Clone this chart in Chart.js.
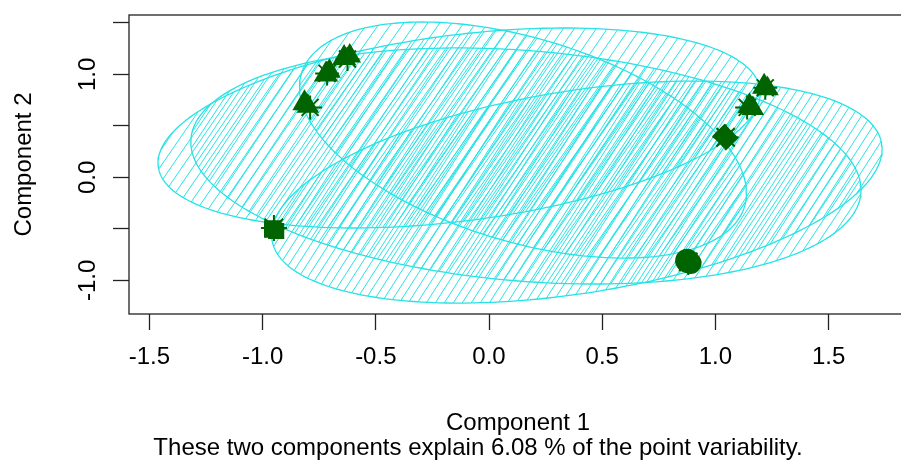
<!DOCTYPE html>
<html>
<head>
<meta charset="utf-8">
<script src="https://cdn.jsdelivr.net/npm/chart.js@4"></script>
<style>
  html, body { margin: 0; padding: 0; background: #fff; overflow: hidden; }
  canvas { display: block; }
</style>
</head>
<body>
<canvas id="c" width="922" height="468"></canvas>
<script>
// axis ticks
const xTicks = [-1.5, -1.0, -0.5, 0.0, 0.5, 1.0, 1.5];
const yTicks = [-1.0, -0.5, 0.0, 0.5, 1.0, 1.5];
const yLabelValues = [-1.0, 0.0, 1.0];
const yLabelText = ['-1.0', '0.0', '1.0'];

// cluster ellipses (center, half width, half height, tilt = cos of phase)
const ellCX = [-0.132, 0.163, 0.388, 0.150];
const ellCY = [0.480, 0.111, -0.142, 0.363];
const ellHX = [1.330, 1.480, 1.348, 0.987];
const ellHY = [0.971, 1.146, 1.078, 1.146];
const ellTilt = [0.35, -0.203, 0.387, -0.45];

// observation groups (many points plotted on top of each other)
const groupX = [
  [-0.640, -0.615, -0.625],
  [-0.720, -0.705, -0.715],
  [-0.815, -0.800, -0.790],
  [-0.955, -0.940, -0.950],
  [0.875, 0.890, 0.880],
  [1.040, 1.050, 1.045],
  [1.150, 1.165, 1.140],
  [1.215, 1.230, 1.220]
];
const groupY = [
  [1.160, 1.180, 1.150],
  [1.000, 1.030, 1.010],
  [0.720, 0.690, 0.680],
  [-0.500, -0.520, -0.490],
  [-0.810, -0.830, -0.820],
  [0.400, 0.380, 0.390],
  [0.690, 0.670, 0.680],
  [0.880, 0.860, 0.870]
];

const subText = 'These two components explain 6.08 % of the point variability.';

const xMin = -1.59, xMax = 1.846;
const yMin = -1.326, yMax = 1.577;

const clusCol = '#28E2E5';
const pointCol = '#006400';
const groupShape = ['triangle', 'triangle', 'triangle', 'rect', 'circle', 'rectRot', 'triangle', 'triangle'];
const hatchW = [11, 10, 9, 12];
const hatchH = [16, 15, 14, 17];
const fontFam = '"Liberation Sans", Arial, sans-serif';

Chart.defaults.font.family = fontFam;
Chart.defaults.color = '#000';

const canvas = document.getElementById('c');
const ctx = canvas.getContext('2d');

function hatch(w, h) {
  const tile = document.createElement('canvas');
  tile.width = w;
  tile.height = h;
  const g = tile.getContext('2d');
  g.strokeStyle = clusCol;
  g.lineWidth = 1;
  g.beginPath();
  for (const dx of [-w, 0, w]) {
    g.moveTo(dx, h);
    g.lineTo(dx + w, 0);
  }
  g.stroke();
  return ctx.createPattern(tile, 'repeat');
}

function ellipsePoints(i) {
  const phi = Math.acos(ellTilt[i]);
  const pts = [];
  for (let k = 0; k <= 200; k++) {
    const t = 2 * Math.PI * k / 200;
    pts.push({ x: ellCX[i] + ellHX[i] * Math.cos(t), y: ellCY[i] + ellHY[i] * Math.cos(t - phi) });
  }
  return pts;
}

const datasets = [];
groupX.forEach((xs, g) => {
  const shape = groupShape[g];
  datasets.push({
    data: xs.map((x, k) => ({ x: x, y: groupY[g][k] })),
    pointStyle: [shape, shape, 'star'],
    pointRadius: shape === 'triangle' ? [12, 11, 12] : [11, 10, 13],
    backgroundColor: pointCol,
    borderColor: pointCol,
    borderWidth: 2,
    order: 1
  });
});
ellCX.forEach((_, i) => {
  datasets.push({
    data: ellipsePoints(i),
    showLine: true,
    fill: 'shape',
    backgroundColor: hatch(hatchW[i], hatchH[i]),
    borderColor: clusCol,
    borderWidth: 1.3,
    pointRadius: 0,
    tension: 0,
    order: 2
  });
});

// R style box, rotated y labels and the subtitle line
const rBox = {
  id: 'rBox',
  afterDraw(chart) {
    const { ctx, chartArea: a, scales: { y } } = chart;
    ctx.save();
    ctx.strokeStyle = '#222';
    ctx.lineWidth = 1.3;
    ctx.strokeRect(a.left, a.top, a.right - a.left, a.bottom - a.top);
    ctx.fillStyle = '#000';
    ctx.font = '24px ' + fontFam;
    ctx.textAlign = 'center';
    ctx.textBaseline = 'alphabetic';
    yLabelValues.forEach((v, i) => {
      ctx.save();
      ctx.translate(95, y.getPixelForValue(v));
      ctx.rotate(-Math.PI / 2);
      ctx.fillText(yLabelText[i], 0, 0);
      ctx.restore();
    });
    ctx.textBaseline = 'middle';
    ctx.fillText(subText, 478, 448);
    ctx.restore();
  }
};

const chart = new Chart(canvas, {
  type: 'scatter',
  data: { datasets: datasets },
  plugins: [rBox],
  options: {
    responsive: false,
    animation: false,
    layout: { padding: { top: 15, left: 0, right: 0, bottom: 31 } },
    plugins: {
      legend: { display: false },
      tooltip: { enabled: false }
    },
    scales: {
      x: {
        type: 'linear',
        min: xMin,
        max: xMax,
        afterBuildTicks: s => { s.ticks = xTicks.map(v => ({ value: v })); },
        afterFit: s => { s.height = 123; },
        ticks: {
          callback: v => Number(v).toFixed(1),
          font: { size: 24 },
          color: '#000',
          padding: 13,
          maxRotation: 0,
          autoSkip: false
        },
        grid: { drawOnChartArea: false, drawTicks: true, tickLength: 16, tickColor: '#222', tickWidth: 1.3 },
        border: { display: false },
        title: {
          display: true,
          text: 'Component 1',
          color: '#000',
          font: { size: 24, lineHeight: 1 },
          padding: { top: 0, bottom: 2 }
        }
      },
      y: {
        type: 'linear',
        min: yMin,
        max: yMax,
        afterBuildTicks: s => { s.ticks = yTicks.map(v => ({ value: v })); },
        afterFit: s => { s.width = 129; },
        ticks: { display: false },
        grid: { drawOnChartArea: false, drawTicks: true, tickLength: 16, tickColor: '#222', tickWidth: 1.3 },
        border: { display: false },
        title: {
          display: true,
          text: 'Component 2',
          color: '#000',
          font: { size: 24, lineHeight: 1 },
          padding: { top: 12, bottom: 0 }
        }
      }
    }
  }
});
</script>
</body>
</html>
